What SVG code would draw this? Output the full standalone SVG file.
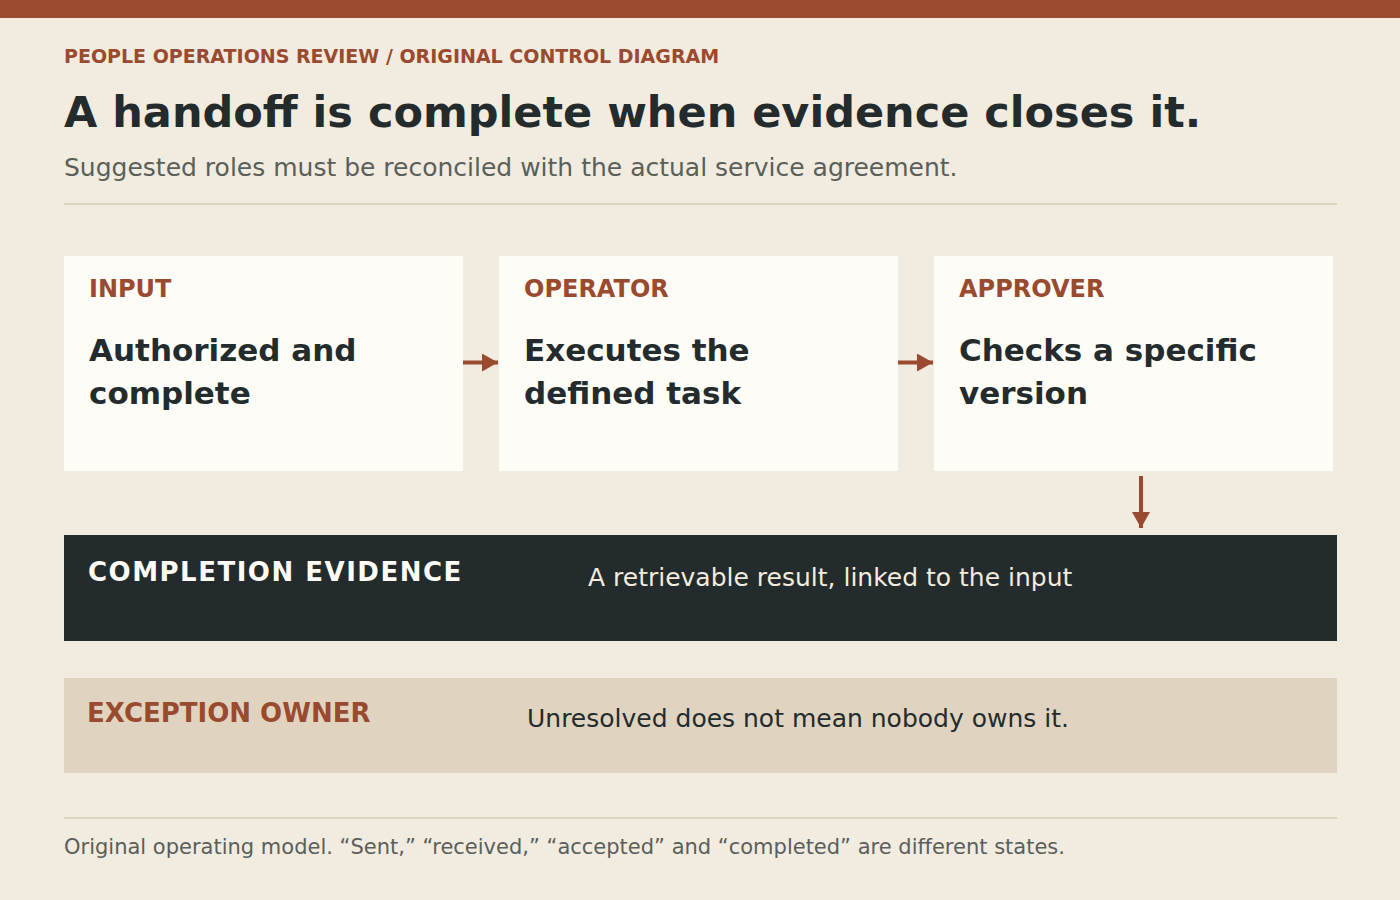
<svg xmlns="http://www.w3.org/2000/svg" width="1400" height="900" viewBox="0 0 1400 900">
<style>
text{font-family:"DejaVu Sans","Noto Sans",sans-serif}
.lbl{font-size:24px;font-weight:bold;fill:#9a4a2e}
.body{font-size:31px;font-weight:bold;fill:#232b2d}
.card{fill:#fdfcf7}
.conn{stroke:#9a4a2e;stroke-width:4;fill:none}
</style>
<defs>
<marker id="ah" viewBox="0 0 16 18" refX="16" refY="9" markerWidth="16" markerHeight="18" markerUnits="userSpaceOnUse" orient="auto">
<path d="M0,0 L16,9 L0,18 z" fill="#9a4a2e"/>
</marker>
</defs>
<rect width="1400" height="900" fill="#f2ebdf"/>
<rect width="1400" height="18" fill="#9a4a2e"/>
<text x="64" y="63" font-size="19" font-weight="bold" fill="#9a4a2e">PEOPLE OPERATIONS REVIEW / ORIGINAL CONTROL DIAGRAM</text>
<text x="64" y="127" font-size="43" font-weight="bold" fill="#232b2d">A handoff is complete when evidence closes it.</text>
<text x="64" y="176" font-size="25" fill="#5a5f5a">Suggested roles must be reconciled with the actual service agreement.</text>
<line x1="64" y1="204" x2="1337" y2="204" stroke="#ddd3c0" stroke-width="2"/>
<g id="input">
<rect class="card" x="64" y="256" width="399" height="215"/>
<text class="lbl" x="89" y="297">INPUT</text>
<text class="body" x="89" y="361">Authorized and</text>
<text class="body" x="89" y="404">complete</text>
</g>
<g id="operator">
<rect class="card" x="499" y="256" width="399" height="215"/>
<text class="lbl" x="524" y="297">OPERATOR</text>
<text class="body" x="524" y="361">Executes the</text>
<text class="body" x="524" y="404">defined task</text>
</g>
<g id="approver">
<rect class="card" x="934" y="256" width="399" height="215"/>
<text class="lbl" x="959" y="297">APPROVER</text>
<text class="body" x="959" y="361">Checks a specific</text>
<text class="body" x="959" y="404">version</text>
</g>
<g id="connectors">
<line class="conn" x1="463" y1="362.5" x2="498" y2="362.5" marker-end="url(#ah)"/>
<line class="conn" x1="898" y1="362.5" x2="933" y2="362.5" marker-end="url(#ah)"/>
<line class="conn" x1="1141" y1="476" x2="1141" y2="528" marker-end="url(#ah)"/>
</g>
<g id="evidence">
<rect x="64" y="535" width="1273" height="106" fill="#232b2d"/>
<text x="88" y="581" font-size="26" font-weight="bold" fill="#fdfcf7" letter-spacing="1.5">COMPLETION EVIDENCE</text>
<text x="588" y="586" font-size="25" fill="#f2ebdf">A retrievable result, linked to the input</text>
</g>
<g id="exception">
<rect x="64" y="678" width="1273" height="95" fill="#e0d4c0"/>
<text x="87" y="722" font-size="26" font-weight="bold" fill="#9a4a2e">EXCEPTION OWNER</text>
<text x="527" y="727" font-size="25" fill="#232b2d">Unresolved does not mean nobody owns it.</text>
</g>
<line x1="64" y1="818" x2="1337" y2="818" stroke="#ddd3c0" stroke-width="2"/>
<text x="64" y="854" font-size="21" fill="#5a5f5a">Original operating model. “Sent,” “received,” “accepted” and “completed” are different states.</text>
</svg>
